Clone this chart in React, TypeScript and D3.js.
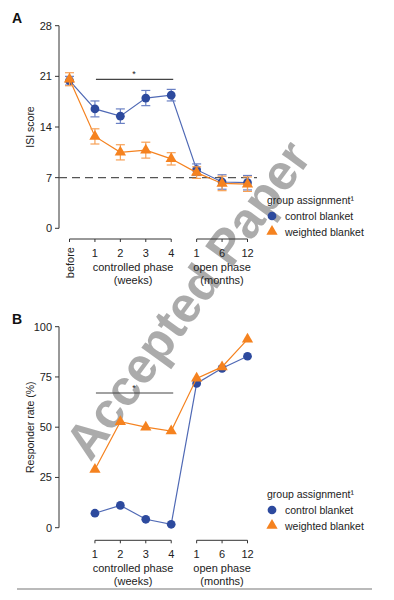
import React, { useEffect, useRef } from 'react';
import * as d3 from 'd3';

// ISI score (panel A), timepoints: before, weeks 1-4, months 1/6/12
const timepointsA = ['before', '1', '2', '3', '4', '1', '6', '12'];
const isiControl = [20.4, 16.5, 15.5, 18.0, 18.4, 8.1, 6.4, 6.3];
const isiControlErr = [0.6, 1.1, 1.0, 1.05, 0.8, 0.8, 1.0, 1.0];
const isiWeighted = [20.6, 12.7, 10.5, 10.8, 9.6, 7.7, 6.2, 6.1];
const isiWeightedErr = [0.9, 1.05, 1.05, 1.1, 0.85, 0.8, 1.0, 1.0];
const isiTicks = [0, 7, 14, 21, 28];

// Responder rate (panel B), timepoints: weeks 1-4, months 1/6/12
const timepointsB = ['1', '2', '3', '4', '1', '6', '12'];
const respControl = [7.2, 11.1, 4.2, 1.7, 71.8, 79.3, 85.3];
const respWeighted = [29, 52.7, 50, 48.1, 74.3, 80, 93.7];
const respTicks = [0, 25, 50, 75, 100];

const BLUE = '#2d4a9e';
const BLUE_LINE = '#4f69b5';
const ORANGE = '#f5821f';
const AXIS = '#333';
const FONT = 'Liberation Sans, Arial, sans-serif';

const App: React.FC = () => {
  const svgRef = useRef<SVGSVGElement>(null);

  useEffect(() => {
    if (!svgRef.current) return;
    const svg = d3.select(svgRef.current);
    svg.selectAll('*').remove();

    // watermark underneath everything
    svg.append('text')
      .attr('transform', 'translate(191,302) rotate(-54)')
      .attr('text-anchor', 'middle')
      .attr('dominant-baseline', 'middle')
      .attr('font-family', FONT)
      .attr('font-weight', 'bold')
      .attr('font-size', 50)
      .attr('fill', '#a3a3a3')
      .attr('opacity', 0.9)
      .text('Accepted Paper');

    const x = d3.scaleLinear().domain([0, 7]).range([69.5, 247.5]);

    const drawPanel = (opts: {
      top: number; bottom: number; ticks: number[]; max: number;
      label: string; ylabel: string; offset: number;
      control: number[]; weighted: number[];
      cErr?: number[]; wErr?: number[];
      axisY: number; sigY: number; legendY: number;
      dashed?: number; labels: string[];
    }) => {
      const y = d3.scaleLinear().domain([0, opts.max]).range([opts.bottom, opts.top]);
      const g = svg.append('g');

      // panel letter
      g.append('text').attr('x', 12).attr('y', opts.top - 3)
        .attr('font-family', FONT).attr('font-weight', 'bold').attr('font-size', 14)
        .attr('fill', '#111').text(opts.label);

      // y axis
      g.append('line').attr('x1', 59).attr('x2', 59).attr('y1', y(opts.max)).attr('y2', y(0))
        .attr('stroke', AXIS).attr('stroke-width', 1);
      opts.ticks.forEach(t => {
        g.append('line').attr('x1', 55).attr('x2', 59).attr('y1', y(t)).attr('y2', y(t))
          .attr('stroke', AXIS);
        g.append('text').attr('x', 52).attr('y', y(t) + 4).attr('text-anchor', 'end')
          .attr('font-family', FONT).attr('font-size', 11).attr('fill', '#222').text(t);
      });
      g.append('text')
        .attr('transform', `translate(34,${(y(0) + y(opts.max)) / 2}) rotate(-90)`)
        .attr('text-anchor', 'middle').attr('font-family', FONT).attr('font-size', 10.5)
        .attr('fill', '#222').text(opts.ylabel);

      // dashed reference line
      if (opts.dashed !== undefined) {
        g.append('line').attr('x1', 59).attr('x2', 257).attr('y1', y(opts.dashed)).attr('y2', y(opts.dashed))
          .attr('stroke', '#555').attr('stroke-width', 1.3).attr('stroke-dasharray', '8,5');
      }

      // x brackets
      const drawBracket = (from: number, to: number) => {
        g.append('line').attr('x1', x(from)).attr('x2', x(to)).attr('y1', opts.axisY).attr('y2', opts.axisY)
          .attr('stroke', AXIS);
        d3.range(from, to + 1).forEach(i => {
          g.append('line').attr('x1', x(i)).attr('x2', x(i)).attr('y1', opts.axisY).attr('y2', opts.axisY + 3)
            .attr('stroke', AXIS);
        });
      };
      drawBracket(opts.offset, 4);
      drawBracket(5, 7);
      opts.labels.forEach((l, j) => {
        const i = j + opts.offset;
        if (l === 'before') {
          g.append('text')
            .attr('transform', `translate(${x(i) + 4},${opts.axisY + 8}) rotate(-90)`)
            .attr('text-anchor', 'end').attr('font-family', FONT).attr('font-size', 11)
            .attr('fill', '#222').text(l);
        } else {
          g.append('text').attr('x', x(i)).attr('y', opts.axisY + 18).attr('text-anchor', 'middle')
            .attr('font-family', FONT).attr('font-size', 11).attr('fill', '#222').text(l);
        }
      });
      const group = (cx: number, lines: string[]) => lines.forEach((t, k) => {
        g.append('text').attr('x', cx).attr('y', opts.axisY + 32 + k * 13).attr('text-anchor', 'middle')
          .attr('font-family', FONT).attr('font-size', 11).attr('fill', '#222').text(t);
      });
      group((x(1) + x(4)) / 2, ['controlled phase', '(weeks)']);
      group(x(6), ['open phase', '(months)']);

      // significance bar
      g.append('line').attr('x1', x(1) + 1).attr('x2', x(4) + 2).attr('y1', opts.sigY).attr('y2', opts.sigY)
        .attr('stroke', '#444').attr('stroke-width', 1.2);
      g.append('text').attr('x', (x(1) + x(4)) / 2 + 1).attr('y', opts.sigY - 2).attr('text-anchor', 'middle')
        .attr('font-family', FONT).attr('font-size', 9).attr('fill', '#222').text('*');

      const line = d3.line<number>().x((_, j) => x(j + opts.offset)).y(d => y(d));
      const series = (vals: number[], err: number[] | undefined, lineColor: string, errColor: string, marker: 'circle' | 'triangle', color: string) => {
        g.append('path').attr('d', line(vals)).attr('fill', 'none')
          .attr('stroke', lineColor).attr('stroke-width', 1.2);
        if (err) {
          vals.forEach((v, j) => {
            const cx = x(j + opts.offset);
            const y1 = y(v - err[j]);
            const y2 = y(v + err[j]);
            g.append('line').attr('x1', cx).attr('x2', cx).attr('y1', y1).attr('y2', y2)
              .attr('stroke', errColor).attr('stroke-width', 1.2);
            [y1, y2].forEach(yy => g.append('line').attr('x1', cx - 4.5).attr('x2', cx + 4.5)
              .attr('y1', yy).attr('y2', yy).attr('stroke', errColor).attr('stroke-width', 1.2));
          });
        }
        const sym = d3.symbol().type(marker === 'circle' ? d3.symbolCircle : d3.symbolTriangle)
          .size(marker === 'circle' ? 60 : 55);
        vals.forEach((v, j) => {
          g.append('path').attr('d', sym())
            .attr('transform', `translate(${x(j + opts.offset)},${y(v)})`)
            .attr('fill', color);
        });
      };
      series(opts.control, opts.cErr, BLUE_LINE, '#6a80c4', 'circle', BLUE);
      series(opts.weighted, opts.wErr, ORANGE, '#f7a055', 'triangle', ORANGE);

      // legend
      const ly = opts.legendY;
      g.append('text').attr('x', 267).attr('y', ly).attr('font-family', FONT).attr('font-size', 10.5)
        .attr('fill', '#222').text('group assignment¹');
      const legendItems: [string, any, string][] = [
        ['control blanket', d3.symbolCircle, BLUE],
        ['weighted blanket', d3.symbolTriangle, ORANGE],
      ];
      legendItems.forEach(([t, s, c], k) => {
        const yy = ly + 16 + k * 15.5;
        g.append('path').attr('d', d3.symbol().type(s).size(s === d3.symbolCircle ? 60 : 55)())
          .attr('transform', `translate(272,${yy - 4})`).attr('fill', c);
        g.append('text').attr('x', 285).attr('y', yy).attr('font-family', FONT).attr('font-size', 10.5)
          .attr('fill', '#222').text(t);
      });
    };

    drawPanel({
      top: 25.7, bottom: 228.3, ticks: isiTicks, max: 28, label: 'A', ylabel: 'ISI score', offset: 0,
      control: isiControl, weighted: isiWeighted, cErr: isiControlErr, wErr: isiWeightedErr,
      axisY: 239, sigY: 79.3, legendY: 204, dashed: 7, labels: timepointsA,
    });
    drawPanel({
      top: 326.7, bottom: 527.7, ticks: respTicks, max: 100, label: 'B', ylabel: 'Responder rate (%)', offset: 1,
      control: respControl, weighted: respWeighted,
      axisY: 540.3, sigY: 393, legendY: 498, labels: timepointsB,
    });

    // bottom rule
    svg.append('line').attr('x1', 17).attr('x2', 372).attr('y1', 589).attr('y2', 589)
      .attr('stroke', '#777').attr('stroke-width', 1.2);
  }, []);

  return (
    <svg ref={svgRef} width={394} height={600}
      style={{ position: 'absolute', left: 0, top: 0, background: '#fff' }} />
  );
};

export default App;
